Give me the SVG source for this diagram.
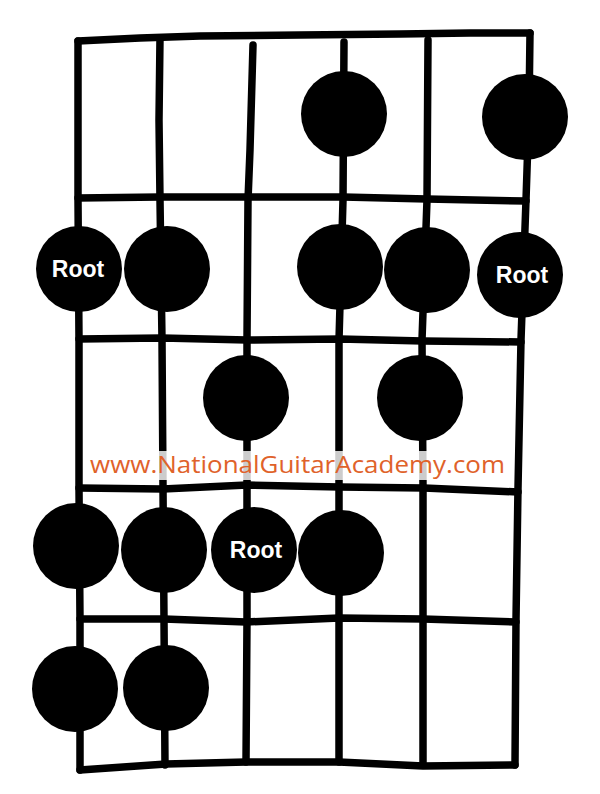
<svg xmlns="http://www.w3.org/2000/svg" width="600" height="794" viewBox="0 0 600 794">
<style>
.ln{fill:none;stroke:#000;stroke-width:7.5;stroke-linecap:round;stroke-linejoin:round}
.dot{fill:#000}
.root{font-family:"Liberation Sans",Arial,sans-serif;font-weight:bold;font-size:23px;fill:#fff;text-anchor:middle}
.wm{font-family:"Open Sans","Noto Sans",sans-serif;font-size:23px;fill:#E0622A}
</style>
<rect width="600" height="794" fill="#fff"/>
<g id="grid">
<polyline class="ln" points="78,41 140,38 200,36 300,35 400,34 470,33 530,33"/>
<polyline class="ln" points="78,41 78,200 79,340 79,488 80,620 80,770"/>
<polyline class="ln" points="530,33 529,110 526,200 521,340 518,488 516,620 515,765"/>
<polyline class="ln" points="80,770 166,764 246,762 339,762 423,766 515,765"/>
<polyline class="ln" points="78,198 160,197 250,197 343,197 427,199 526,201"/>
<polyline class="ln" points="79,339 162,338 247,340 340,339 423,341 521,342"/>
<polyline class="ln" points="79,488 163,489 247,485 340,487 424,488 518,492"/>
<polyline class="ln" points="80,619 164,619 246,622 339,618 423,619 516,622"/>
<polyline class="ln" points="160,38 159,120 160,200 162,340 163,488 164,620 165,765"/>
<polyline class="ln" points="253,45 250,150 248,200 247,340 247,488 247,620 246,762"/>
<polyline class="ln" points="344,42 343,200 339,340 339,488 339,620 339,762"/>
<polyline class="ln" points="428,40 427,200 422,340 423,488 423,620 423,765"/>
</g>
<g id="n1"><circle class="dot" cx="344" cy="114" r="43"/></g>
<g id="n2"><circle class="dot" cx="525" cy="117" r="43"/></g>
<g id="n3"><circle class="dot" cx="79" cy="269" r="43"/><text class="root" x="78" y="277">Root</text></g>
<g id="n4"><circle class="dot" cx="167" cy="269" r="43"/></g>
<g id="n5"><circle class="dot" cx="340" cy="267" r="43"/></g>
<g id="n6"><circle class="dot" cx="427" cy="270" r="43"/></g>
<g id="n7"><circle class="dot" cx="520" cy="275" r="43"/><text class="root" x="522" y="283">Root</text></g>
<g id="n8"><circle class="dot" cx="246" cy="398" r="43"/></g>
<g id="n9"><circle class="dot" cx="420" cy="398" r="43"/></g>
<g id="n10"><circle class="dot" cx="76" cy="546" r="43"/></g>
<g id="n11"><circle class="dot" cx="164" cy="550" r="43"/></g>
<g id="n12"><circle class="dot" cx="254" cy="550" r="43"/><text class="root" x="256" y="558">Root</text></g>
<g id="n13"><circle class="dot" cx="341" cy="553" r="43"/></g>
<g id="n14"><circle class="dot" cx="75" cy="689" r="43"/></g>
<g id="n15"><circle class="dot" cx="166" cy="688" r="43"/></g>
<rect x="88" y="451" width="420" height="29" fill="#fff" opacity="0.8"/>
<text class="wm" x="90" y="473" textLength="415" lengthAdjust="spacingAndGlyphs">www.NationalGuitarAcademy.com</text>
</svg>
